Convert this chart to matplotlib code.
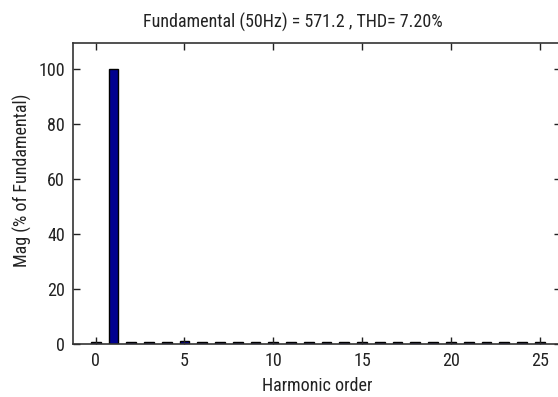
import matplotlib
matplotlib.use("Agg")
import matplotlib.pyplot as plt

harmonics = list(range(0, 26))
magnitudes = [0.6, 100, 0.6, 0.6, 0.6, 1.2, 0.6, 0.6, 0.6, 0.6, 0.6, 0.6, 0.6,
              0.6, 0.6, 0.6, 0.6, 0.6, 0.6, 0.6, 0.6, 0.6, 0.6, 0.6, 0.6, 0.6]
xticks = [0, 5, 10, 15, 20, 25]
yticks = [0, 20, 40, 60, 80, 100]
title = "Fundamental (50Hz) = 571.2 , THD= 7.20%"

plt.rcParams['font.family'] = ['Roboto Condensed', 'DejaVu Sans']

fig = plt.figure(figsize=(5.58, 3.97), dpi=100)
ax = fig.add_axes([73.3/558, 53/397, (561-73.3)/558, (344-43.3)/397])
ax.bar(harmonics, magnitudes, width=0.55, color='#00008F', edgecolor='black', linewidth=1.0)
ax.set_xlim(-1.26, 26.2)
ax.set_ylim(0, 109.5)
ax.set_xticks(xticks)
ax.set_yticks(yticks)
ax.tick_params(direction='in', length=5, top=True, right=True, labelsize=13, width=1, pad=6,
               colors='#222222')
for s in ax.spines.values():
    s.set_linewidth(1.2)
    s.set_color('#333333')
ax.set_xlabel("Harmonic order", fontsize=13, labelpad=5, color='#222222')
ax.set_ylabel("Mag (% of Fundamental)", fontsize=13, color='#222222')
ax.yaxis.set_label_coords(-0.085, 0.545)
fig.text(293/558, 1 - 22/397, title, ha='center', va='center', fontsize=13, color='#222222')
fig.savefig("out.png", dpi=100)
